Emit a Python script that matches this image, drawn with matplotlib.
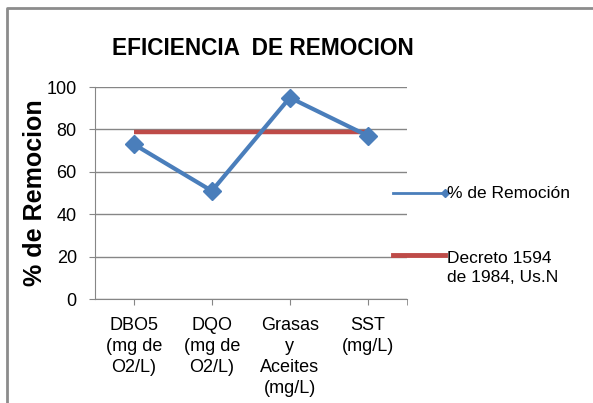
import matplotlib.pyplot as plt
from matplotlib.lines import Line2D

plt.rcParams['font.family'] = ['Liberation Sans', 'DejaVu Sans']

categorias = ['DBO5\n(mg de\nO2/L)', 'DQO\n(mg de\nO2/L)', 'Grasas\ny\nAceites\n(mg/L)', 'SST\n(mg/L)']
remocion = [73, 51, 95, 77]
decreto = [79, 79, 79, 79]
yticks = [0, 20, 40, 60, 80, 100]

azul = '#4A7EBB'
rojo = '#BE4B48'
gris = '#868686'

fig = plt.figure(figsize=(5.93, 4.03), dpi=100)
ax = fig.add_axes([0.160, 0.258, 0.526, 0.526])

x = range(len(categorias))
ax.plot(x, decreto, color=rojo, lw=3.2, solid_capstyle='butt', zorder=3)
ax.plot(x, remocion, color=azul, lw=3.0, marker='D', ms=9, zorder=4)

ax.set_xlim(-0.5, 3.5)
ax.set_ylim(0, 100)
ax.set_yticks(yticks)
ax.set_xticks(list(x))
ax.set_xticklabels(categorias, fontsize=13, linespacing=1.3, va='top')
ax.set_xticks([3.5], minor=True)
ax.tick_params(axis='both', which='both', color=gris, length=4, direction='out')
ax.tick_params(axis='y', labelsize=13, pad=9)
ax.tick_params(axis='x', pad=9)
ax.yaxis.grid(True, color=gris, lw=1)
ax.set_axisbelow(True)
for s in ['top', 'right']:
    ax.spines[s].set_visible(False)
for s in ['left', 'bottom']:
    ax.spines[s].set_color(gris)

ax.set_ylabel('% de Remocion', fontsize=18, fontweight='bold', labelpad=0)
fig.text(0.444, 0.879, 'EFICIENCIA  DE REMOCION', ha='center', va='center',
         fontsize=16.3, fontweight='bold')

# leyenda
fig.add_artist(Line2D([0.663, 0.750], [0.521, 0.521], color=azul, lw=2,
                      marker='D', ms=4, markevery=[1], transform=fig.transFigure))
fig.add_artist(Line2D([0.663, 0.750], [0.367, 0.367], color=rojo, lw=3.5,
                      transform=fig.transFigure))
fig.text(0.754, 0.521, '% de Remoción', fontsize=12.5, va='center')
fig.text(0.754, 0.334, 'Decreto 1594\nde 1984, Us.N', fontsize=12.5, va='center',
         linespacing=1.35)

# marco exterior
fig.add_artist(Line2D([0.011, 0.011, 1.0], [0.0, 0.979, 0.979], color='#8C8C8C',
                      lw=2, transform=fig.transFigure))

fig.savefig('out.png', dpi=100)
